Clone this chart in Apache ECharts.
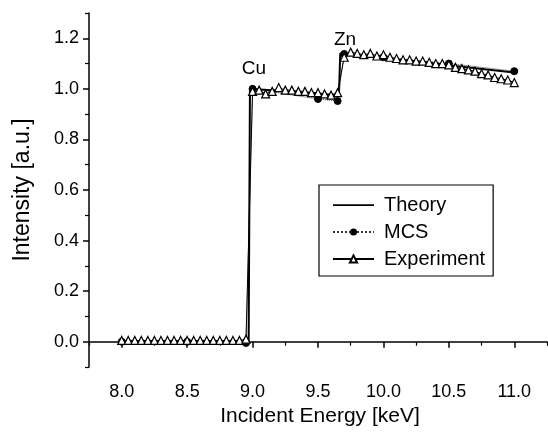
<!DOCTYPE html>
<html>
<head>
<meta charset="utf-8">
<script src="https://cdn.jsdelivr.net/npm/echarts@6/dist/echarts.min.js"></script>
<style>
  html, body { margin: 0; padding: 0; background: #fff; }
  #chart { width: 548px; height: 432px; }
</style>
</head>
<body>
<div id="chart"></div>
<script>
// tick positions
var xMajorTicks = [8.0, 8.5, 9.0, 9.5, 10.0, 10.5, 11.0];
var xMinorTicks = [7.75, 8.25, 8.75, 9.25, 9.75, 10.25, 10.75, 11.25];
var yMajorTicks = [0.0, 0.2, 0.4, 0.6, 0.8, 1.0, 1.2];
var yMinorTicks = [-0.1, 0.1, 0.3, 0.5, 0.7, 0.9, 1.1, 1.3];

// theory curve
var theoryEnergy = [8.0, 8.97, 8.98, 9.66, 9.67, 11.0];
var theoryIntensity = [0.0, 0.0, 1.0, 0.975, 1.14, 1.065];

// MCS simulation
var mcsEnergy = [8.0, 8.5, 8.95, 9.0, 9.5, 9.65, 9.7, 10.0, 10.5, 11.0];
var mcsIntensity = [0.0, 0.0, -0.005, 1.0, 0.96, 0.952, 1.138, 1.125, 1.1, 1.07];

// experiment
var expEnergy = [
  8.00, 8.05, 8.10, 8.15, 8.20, 8.25, 8.30, 8.35, 8.40, 8.45,
  8.50, 8.55, 8.60, 8.65, 8.70, 8.75, 8.80, 8.85, 8.90, 8.95,
  9.00, 9.05, 9.10, 9.15, 9.20, 9.25, 9.30, 9.35, 9.40, 9.45,
  9.50, 9.55, 9.60, 9.65,
  9.70, 9.75, 9.80, 9.85, 9.90, 9.95, 10.00, 10.05, 10.10, 10.15,
  10.20, 10.25, 10.30, 10.35, 10.40, 10.45, 10.50, 10.55, 10.60, 10.65,
  10.70, 10.75, 10.80, 10.85, 10.90, 10.95, 11.00
];
var expIntensity = [
  0.005, 0.005, 0.005, 0.005, 0.005, 0.005, 0.005, 0.005, 0.005, 0.005,
  0.005, 0.005, 0.005, 0.005, 0.005, 0.005, 0.005, 0.005, 0.005, 0.01,
  0.99, 0.995, 0.98, 0.99, 1.005, 0.995, 0.995, 0.99, 0.99, 0.985,
  0.985, 0.98, 0.975, 0.985,
  1.125, 1.145, 1.14, 1.135, 1.14, 1.13, 1.135, 1.125, 1.12, 1.115,
  1.115, 1.11, 1.11, 1.105, 1.1, 1.1, 1.095, 1.085, 1.08, 1.075,
  1.07, 1.06, 1.055, 1.045, 1.04, 1.035, 1.025
];

function zip(xs, ys) {
  var out = [];
  for (let i = 0; i < xs.length; i++) out.push([xs[i], ys[i]]);
  return out;
}

var font = 'Liberation Sans, Arial, sans-serif';
// plain solid line for the Theory legend entry (tiny corner dots keep the box 41x9)
var lineIcon = 'path://M0,0h0.01v0.01h-0.01z M0,3.8h41v1.6h-41z M40.99,8.99h0.01v0.01h-0.01z';

var chart = echarts.init(document.getElementById('chart'), null, { renderer: 'canvas' });

var op = {
  backgroundColor: '#fff',
  animation: false,
  grid: { left: 89, right: 1, top: 13, bottom: 65 },
  xAxis: [
    {
      type: 'value', min: 7.75, max: 11.25,
      axisLine: { lineStyle: { color: '#000', width: 1.5 } },
      axisTick: { customValues: xMajorTicks, length: 6, lineStyle: { color: '#000', width: 1.5 } },
      axisLabel: {
        customValues: xMajorTicks, margin: 16, color: '#000', fontSize: 18, fontFamily: font,
        formatter: function (v) { return v.toFixed(1); }
      },
      splitLine: { show: false }
    },
    {
      type: 'value', min: 7.75, max: 11.25, position: 'bottom',
      axisLine: { show: false },
      axisTick: { customValues: xMinorTicks, length: 4, lineStyle: { color: '#000', width: 1.2 } },
      axisLabel: { show: false },
      splitLine: { show: false }
    }
  ],
  yAxis: [
    {
      type: 'value', min: -0.1, max: 1.3,
      axisLine: { show: true, lineStyle: { color: '#000', width: 1.5 } },
      axisTick: { show: true, customValues: yMajorTicks, length: 6, lineStyle: { color: '#000', width: 1.5 } },
      axisLabel: {
        customValues: yMajorTicks, margin: 10, color: '#000', fontSize: 18, fontFamily: font,
        formatter: function (v) { return v.toFixed(1); }
      },
      splitLine: { show: false }
    },
    {
      type: 'value', min: -0.1, max: 1.3, position: 'left',
      axisLine: { show: false },
      axisTick: { show: true, customValues: yMinorTicks, length: 4, lineStyle: { color: '#000', width: 1.2 } },
      axisLabel: { show: false },
      splitLine: { show: false }
    }
  ],
  legend: {
    orient: 'vertical',
    left: 319, top: 185,
    padding: [10, 8, 7, 13],
    itemGap: 7,
    itemWidth: 41, itemHeight: 9,
    borderColor: '#000', borderWidth: 1.2,
    backgroundColor: '#fff',
    textStyle: { color: '#000', fontSize: 20, fontFamily: font, padding: [0, 0, 0, 5] },
    data: [
      { name: 'Theory', icon: lineIcon, itemStyle: { color: '#000' } },
      'MCS',
      'Experiment'
    ]
  },
  graphic: [
    {
      type: 'text', x: 23, y: 190, rotation: Math.PI / 2,
      style: { text: 'Intensity [a.u.]', fontSize: 23, fontFamily: font, fill: '#000', textAlign: 'center', textVerticalAlign: 'middle' }
    },
    {
      type: 'text', x: 320, y: 416,
      style: { text: 'Incident Energy [keV]', fontSize: 21, fontFamily: font, fill: '#000', textAlign: 'center', textVerticalAlign: 'middle' }
    },
    {
      type: 'text', x: 254, y: 69,
      style: { text: 'Cu', fontSize: 19, fontFamily: font, fill: '#000', textAlign: 'center', textVerticalAlign: 'middle' }
    },
    {
      type: 'text', x: 345, y: 40,
      style: { text: 'Zn', fontSize: 19, fontFamily: font, fill: '#000', textAlign: 'center', textVerticalAlign: 'middle' }
    }
  ],
  series: [
    {
      name: 'Theory', type: 'line', xAxisIndex: 0, yAxisIndex: 0,
      showSymbol: false, symbol: 'none',
      lineStyle: { color: '#000', width: 2 },
      itemStyle: { color: '#000' },
      data: zip(theoryEnergy, theoryIntensity), z: 3
    },
    {
      name: 'MCS', type: 'line', xAxisIndex: 0, yAxisIndex: 0,
      symbol: 'circle', symbolSize: 7,
      lineStyle: { color: '#333', width: 1, type: 'dotted' },
      itemStyle: { color: '#000', borderColor: '#000' },
      data: zip(mcsEnergy, mcsIntensity), z: 4
    },
    {
      name: 'Experiment', type: 'line', xAxisIndex: 0, yAxisIndex: 0,
      symbol: 'triangle', symbolSize: [8, 8],
      lineStyle: { color: '#000', width: 1 },
      itemStyle: { color: '#fff', borderColor: '#000', borderWidth: 1.2 },
      data: zip(expEnergy, expIntensity), z: 5
    }
  ]
};
chart.setOption(op);
</script>
</body>
</html>
